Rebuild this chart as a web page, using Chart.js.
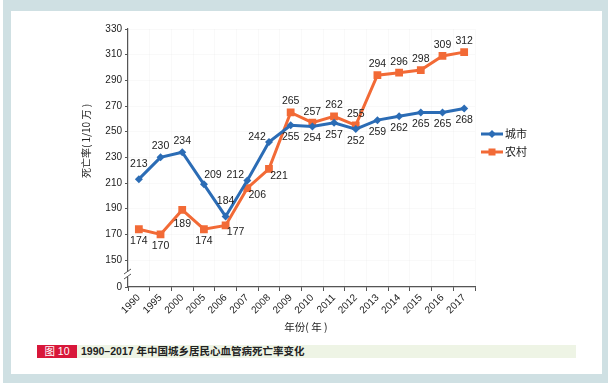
<!DOCTYPE html>
<html>
<head>
<meta charset="utf-8">
<script src="https://cdn.jsdelivr.net/npm/chart.js@4.4.0/dist/chart.umd.min.js"></script>
<style>
  body { margin: 0; background: #fff; }
  #frame { position: absolute; left: 3px; top: 0; width: 605px; height: 383px; background: #cfe0e3; }
  #panel { position: absolute; left: 11px; top: 11px; width: 591px; height: 363px; background: #fff; }
  #wrap { position: absolute; left: 0; top: 0; width: 611px; height: 388px; }
  #cap { position: absolute; left: 37px; top: 345px; width: 539px; height: 13px; background: #eef4e5;
         font: bold 10.5px "Liberation Sans", "Noto Sans CJK SC"; line-height: 13px; color: #222; white-space: nowrap; }
  #cap .tag { display: inline-block; width: 40px; height: 13px; background: #d8173a; color: #fff;
              font-weight: normal; text-align: center; margin-right: 4px; }
</style>
</head>
<body>
<div id="frame"></div>
<div id="panel"></div>
<div id="cap"><span class="tag">图 10</span>1990–2017 年中国城乡居民心血管病死亡率变化</div>
<div id="wrap"><canvas id="chart"></canvas></div>
<script>
// categories and series (1/10万)
const years = ['1990', '1995', '2000', '2005', '2006', '2007', '2008', '2009',
               '2010', '2011', '2012', '2013', '2014', '2015', '2016', '2017'];
const urban = [213, 230, 234, 209, 184, 212, 242, 255, 254, 257, 252, 259, 262, 265, 265, 268];
const rural = [174, 170, 189, 174, 177, 206, 221, 265, 257, 262, 255, 294, 296, 298, 309, 312];

// y axis is broken: "0" sits just under 150
const yTicks = [0, 150, 170, 190, 210, 230, 250, 270, 290, 310, 330];
const breakBase = 129;

// where each value label goes relative to its point
const urbanLabelAt = ['high', 'up', 'up', 'upright', 'high', 'left', 'left', 'down',
                      'down', 'down', 'down', 'down', 'down', 'down', 'down', 'down'];
const ruralLabelAt = ['down', 'down', 'low', 'down', 'downright', 'downright', 'downright', 'up',
                      'up', 'up', 'up', 'up', 'up', 'up', 'up', 'up'];

const BLUE = '#2b6cb5';
const ORANGE = '#f26a36';
const CJK = '"Noto Sans CJK SC", sans-serif';

const labelOffsets = {
    up: [0, -11], high: [0, -15], down: [0, 12], low: [0, 14],
    upright: [9, -9], left: [-12, -5], downright: [10, 7]
};

const valueLabels = {
    id: 'valueLabels',
    afterDatasetsDraw(chart) {
        const ctx = chart.ctx;
        ctx.save();
        ctx.font = '10.5px "Liberation Sans", Arial, sans-serif';
        ctx.fillStyle = '#222';
        ctx.textAlign = 'center';
        ctx.textBaseline = 'middle';
        chart.data.datasets.forEach((ds, di) => {
            const where = di === 0 ? urbanLabelAt : ruralLabelAt;
            chart.getDatasetMeta(di).data.forEach((pt, i) => {
                const off = labelOffsets[where[i]];
                ctx.fillText(String(ds.data[i]), pt.x + off[0], pt.y + off[1]);
            });
        });
        ctx.restore();
    }
};

const decorations = {
    id: 'decorations',
    afterDraw(chart) {
        const ctx = chart.ctx;
        const area = chart.chartArea;
        ctx.save();

        // axis break marks
        const bx = area.left, by = 275;
        ctx.fillStyle = '#fff';
        ctx.fillRect(bx - 2, by - 3, 4, 5);
        ctx.strokeStyle = '#555';
        ctx.lineWidth = 1;
        ctx.beginPath();
        ctx.moveTo(bx - 4, by - 1); ctx.lineTo(bx + 3, by - 6);
        ctx.moveTo(bx - 4, by + 4); ctx.lineTo(bx + 3, by - 1);
        ctx.stroke();

        // axis titles
        ctx.fillStyle = '#222';
        ctx.font = '10px ' + CJK;
        ctx.textAlign = 'center';
        ctx.textBaseline = 'middle';
        ctx.save();
        ctx.translate(86, 141);
        ctx.rotate(-Math.PI / 2);
        ctx.fillText('死亡率( 1/10 万 )', 0, 0);
        ctx.restore();
        ctx.font = '10.5px ' + CJK;
        ctx.fillText('年份( 年 )', 306, 327);

        // legend
        const items = [[chart.data.datasets[0], 134, 'rectRot'], [chart.data.datasets[1], 152, 'rect']];
        items.forEach(([ds, y, shape]) => {
            ctx.strokeStyle = ds.borderColor;
            ctx.fillStyle = ds.borderColor;
            ctx.lineWidth = 3;
            ctx.beginPath();
            ctx.moveTo(481, y); ctx.lineTo(503, y);
            ctx.stroke();
            if (shape === 'rect') {
                ctx.fillRect(488.5, y - 3.5, 7, 7);
            } else {
                ctx.beginPath();
                ctx.moveTo(492, y - 4); ctx.lineTo(496, y); ctx.lineTo(492, y + 4); ctx.lineTo(488, y);
                ctx.closePath();
                ctx.fill();
            }
            ctx.fillStyle = '#222';
            ctx.font = '11px ' + CJK;
            ctx.textAlign = 'left';
            ctx.fillText(ds.label, 505, y);
        });
        ctx.restore();
    }
};

new Chart(document.getElementById('chart'), {
    type: 'line',
    data: {
        labels: years,
        datasets: [
            {
                label: '城市', data: urban, borderColor: BLUE, backgroundColor: BLUE,
                borderWidth: 3, pointStyle: 'rectRot', pointRadius: 4, pointBorderWidth: 0, tension: 0
            },
            {
                label: '农村', data: rural, borderColor: ORANGE, backgroundColor: ORANGE,
                borderWidth: 3, pointStyle: 'rect', pointRadius: 5.5, pointBorderWidth: 0, tension: 0
            }
        ]
    },
    options: {
        responsive: true,
        maintainAspectRatio: false,
        animation: false,
        events: [],
        layout: { padding: { left: 0, top: 29, right: 136, bottom: 0 } },
        plugins: { legend: { display: false }, tooltip: { enabled: false } },
        scales: {
            x: {
                type: 'category',
                offset: true,
                grid: { offset: true, color: 'rgba(0,0,0,0.025)', tickColor: '#555', tickLength: 4 },
                border: { color: '#555', width: 1.2 },
                ticks: {
                    minRotation: 45, maxRotation: 45, padding: 1, color: '#222', autoSkip: false,
                    font: { family: '"Liberation Sans", Arial, sans-serif', size: 10 }
                },
                afterFit: s => { s.height = 101; }
            },
            y: {
                min: breakBase,
                max: 330,
                grid: { color: 'rgba(0,0,0,0.025)', tickColor: '#555', tickLength: 3 },
                border: { color: '#555', width: 1.2 },
                afterBuildTicks: s => { s.ticks = yTicks.map(v => ({ value: v === 0 ? breakBase : v })); },
                ticks: {
                    padding: 3, color: '#222',
                    font: { family: '"Liberation Sans", Arial, sans-serif', size: 10 },
                    callback: v => (v === breakBase ? '0' : v)
                },
                afterFit: s => { s.width = 128; }
            }
        }
    },
    plugins: [valueLabels, decorations]
});
</script>
</body>
</html>
